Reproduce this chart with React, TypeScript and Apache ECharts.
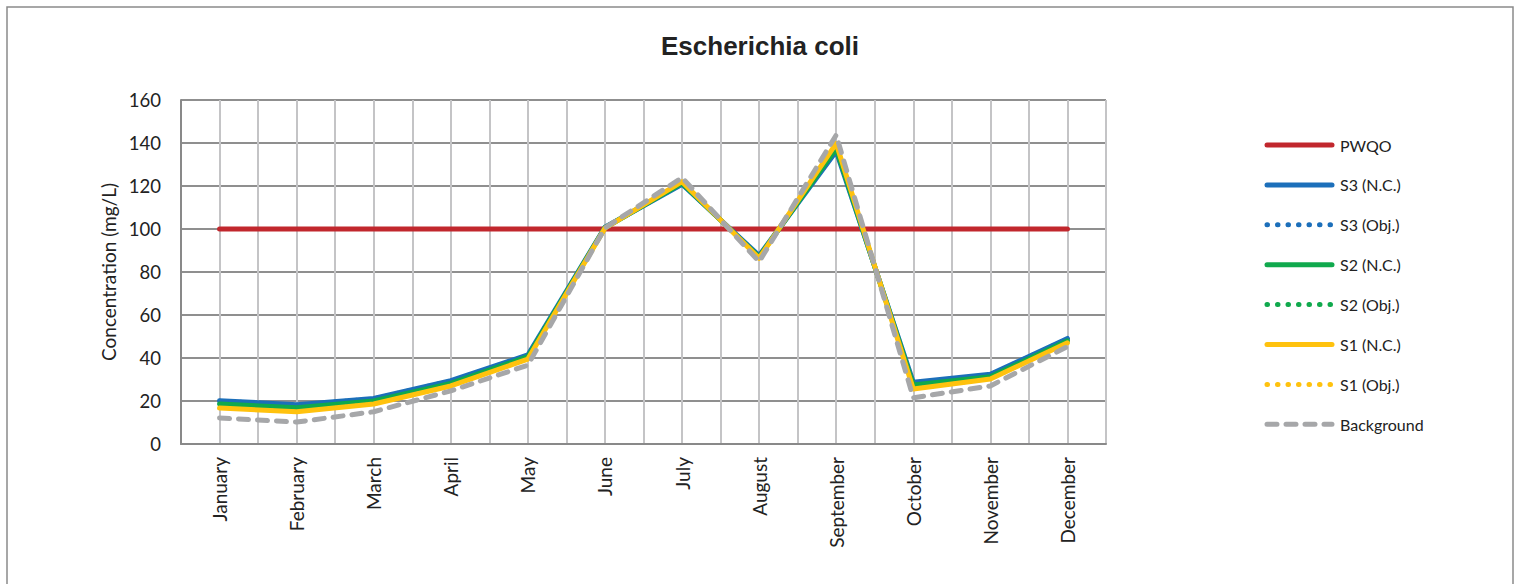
import React, { useEffect, useRef } from "react";
import * as echarts from "echarts";

const months = ["January", "February", "March", "April", "May", "June", "July", "August", "September", "October", "November", "December"];
const pwqo = [100, 100, 100, 100, 100, 100, 100, 100, 100, 100, 100, 100];
const s3NC = [20.1, 18.3, 21.2, 29.5, 41.4, 100.8, 120.8, 87.6, 136.2, 28.7, 32.4, 49.1];
const s3Obj = [20.1, 18.3, 21.2, 29.5, 41.4, 100.8, 120.8, 87.6, 136.2, 28.7, 32.4, 49.1];
const s2NC = [18.6, 16.9, 20.0, 28.2, 40.6, 100.6, 121.3, 87.0, 137.5, 27.4, 31.3, 48.0];
const s2Obj = [18.6, 16.9, 20.0, 28.2, 40.6, 100.6, 121.3, 87.0, 137.5, 27.4, 31.3, 48.0];
const s1NC = [16.7, 15.0, 18.6, 27.0, 39.5, 100.4, 122.0, 86.4, 139.8, 25.6, 30.2, 47.1];
const s1Obj = [16.7, 15.0, 18.6, 27.0, 39.5, 100.4, 122.0, 86.4, 139.8, 25.6, 30.2, 47.1];
const background = [12.1, 10.2, 15.0, 24.7, 36.7, 100.5, 123.9, 84.8, 143.7, 21.5, 27.0, 45.3];

const FONT = "Lato, 'Noto Sans', sans-serif";

export default function App() {
  const ref = useRef<HTMLDivElement>(null);
  useEffect(() => {
    document.body.style.margin = "0";
    const chart = echarts.init(ref.current!, null, { renderer: "svg" });
    const gridCats = Array.from({ length: months.length * 2 + 1 }, () => "");
    const DOT: any = [0.5, 10];
    const DASH: any = [10, 9];
    const mk = (name: string, data: number[], color: string, type: any, width = 5) => ({
      name,
      type: "line",
      data,
      xAxisIndex: 0,
      symbol: "none",
      lineStyle: { color, width, type, cap: "round", join: "round" },
      itemStyle: { color },
    });
    const legendItem = (name: string, type: any, width = 5) => ({
      name,
      lineStyle: { width, type, cap: "round" },
      itemStyle: { opacity: 0 },
    });
    chart.setOption({
      animation: false,
      backgroundColor: "#ffffff",
      title: {
        text: "Escherichia coli",
        left: 656,
        top: 28,
        textStyle: { fontFamily: "'Liberation Sans', Arial, sans-serif", fontWeight: "bold", fontSize: 26, color: "#222" },
      },
      graphic: [
        {
          type: "rect",
          shape: { x: 7, y: 7, width: 1506, height: 640 },
          style: { fill: "none", stroke: "#8a8a8a", lineWidth: 1.5 },
          silent: true,
        },
      ],
      grid: { left: 181, right: 409, top: 100, bottom: 140 },
      legend: {
        orient: "vertical",
        left: 1259.5,
        top: 130,
        itemWidth: 65,
        itemHeight: 20,
        itemGap: 19.9,
        itemStyle: { opacity: 0 },
        lineStyle: { width: 5 },
        textStyle: { fontFamily: FONT, fontSize: 16, color: "#222", lineHeight: 20, padding: [0, 0, 0, 3] },
        data: [
          legendItem("PWQO", "solid"),
          legendItem("S3 (N.C.)", "solid"),
          legendItem("S3 (Obj.)", DOT, 5),
          legendItem("S2 (N.C.)", "solid"),
          legendItem("S2 (Obj.)", DOT, 5),
          legendItem("S1 (N.C.)", "solid"),
          legendItem("S1 (Obj.)", DOT, 5),
          legendItem("Background", DASH),
        ],
      },
      xAxis: [
        {
          type: "category",
          data: months,
          boundaryGap: true,
          axisLine: { show: true, lineStyle: { color: "#898989", width: 2 } },
          axisTick: { show: false },
          splitLine: { show: false },
          axisLabel: { rotate: 90, margin: 13, fontFamily: FONT, fontSize: 19, color: "#222", interval: 0 },
          z: 3,
        },
        {
          type: "category",
          data: gridCats,
          boundaryGap: false,
          position: "bottom",
          axisLine: { show: false },
          axisTick: { show: false },
          axisLabel: { show: false },
          splitLine: { show: true, interval: 0, lineStyle: { color: "#c4c4c6", width: 2 } },
        },
      ],
      yAxis: {
        type: "value",
        min: 0,
        max: 160,
        interval: 20,
        name: "Concentration (mg/L)",
        nameLocation: "middle",
        nameGap: 62,
        nameRotate: 90,
        nameTextStyle: { fontFamily: FONT, fontSize: 19, color: "#222" },
        axisLine: { show: true, lineStyle: { color: "#898989", width: 2 } },
        axisTick: { show: false },
        axisLabel: { margin: 20, fontFamily: FONT, fontSize: 18.5, color: "#222" },
        splitLine: { show: true, lineStyle: { color: "#8f8f8f", width: 2 } },
      },
      series: [
        mk("PWQO", pwqo, "#c1272d", "solid"),
        mk("S3 (N.C.)", s3NC, "#1c6fba", "solid"),
        mk("S3 (Obj.)", s3Obj, "#1c6fba", DOT, 4),
        mk("S2 (N.C.)", s2NC, "#10a94d", "solid"),
        mk("S2 (Obj.)", s2Obj, "#10a94d", DOT, 4),
        mk("S1 (N.C.)", s1NC, "#ffc20e", "solid"),
        mk("S1 (Obj.)", s1Obj, "#ffc20e", DOT, 4),
        mk("Background", background, "#a6a7a9", DASH),
      ],
    });
    return () => chart.dispose();
  }, []);
  return <div ref={ref} style={{ width: 1515, height: 584 }} />;
}
